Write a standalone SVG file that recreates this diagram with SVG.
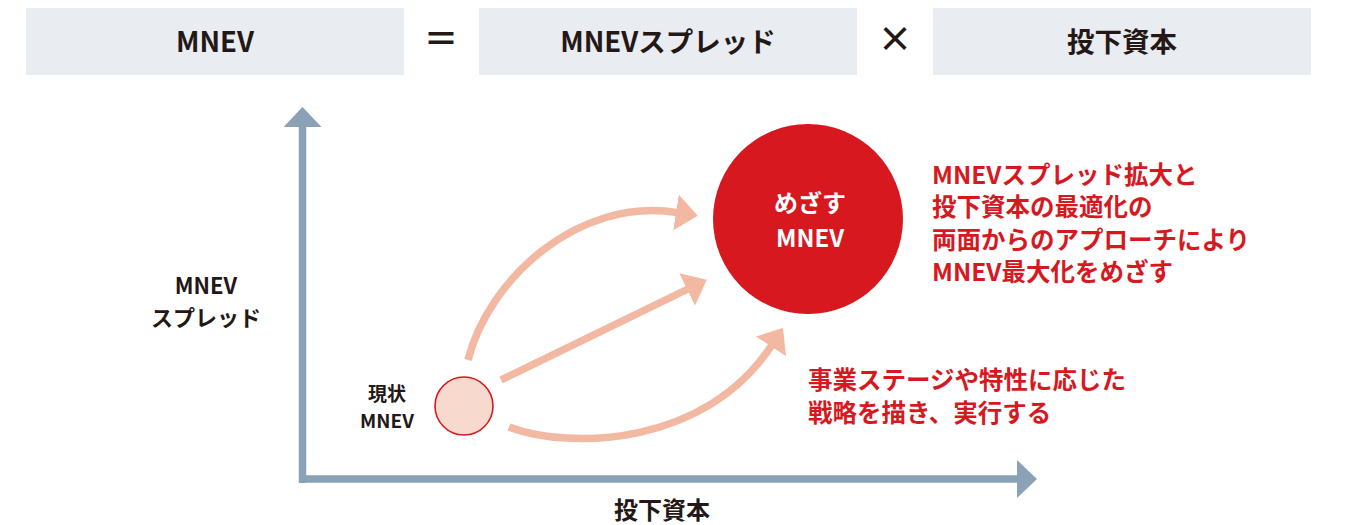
<svg xmlns="http://www.w3.org/2000/svg" width="1345" height="525" viewBox="0 0 1345 525">
<style>
.box{fill:#e9ecf1}
.t{font-family:"Noto Sans CJK JP","Noto Sans",sans-serif;font-weight:700}
.dk{fill:#231815}
.rd{fill:#d7191f}
.wh{fill:#ffffff}
.arr{fill:none;stroke:#f3b8a1;stroke-width:7.5}
.axis{fill:none;stroke:#8aa1b6;stroke-width:7.5}
</style>
<defs>
<marker id="ah" viewBox="0 0 22 36" markerWidth="22" markerHeight="36" markerUnits="userSpaceOnUse" refX="1" refY="18" orient="auto">
<path d="M0,0 L22,18 L0,36 Z" fill="#f3b8a1"/>
</marker>
<marker id="axh" viewBox="0 0 20 38" markerWidth="20" markerHeight="38" markerUnits="userSpaceOnUse" refX="1" refY="19" orient="auto">
<path d="M0,0 L20,19 L0,38 Z" fill="#8aa1b6"/>
</marker>
</defs>

<g id="formula">
<g id="box-mnev"><rect class="box" x="26" y="8" width="378" height="67"/><text class="t dk" x="215" y="51.5" font-size="27.5" text-anchor="middle">MNEV</text></g>
<text class="t dk" x="441" y="52" font-size="35" text-anchor="middle">＝</text>
<g id="box-spread"><rect class="box" x="479" y="8" width="378" height="67"/><text class="t dk" x="668" y="51.5" font-size="27.5" text-anchor="middle">MNEVスプレッド</text></g>
<text class="t dk" x="895" y="52" font-size="35" text-anchor="middle">×</text>
<g id="box-capital"><rect class="box" x="933" y="8" width="378" height="67"/><text class="t dk" x="1122" y="51.5" font-size="27.5" text-anchor="middle">投下資本</text></g>
</g>

<g id="axes">
<path class="axis" d="M302.5,483 L302.5,126" marker-end="url(#axh)"/>
<path class="axis" d="M299,479 L1018,479" marker-end="url(#axh)"/>
</g>

<g id="axis-labels">
<g id="label-y"><text class="t dk" font-size="22" text-anchor="middle"><tspan x="206" y="294">MNEV</tspan><tspan x="206" y="326">スプレッド</tspan></text></g>
<g id="label-x"><text class="t dk" x="662" y="519" font-size="24" text-anchor="middle">投下資本</text></g>
</g>

<g id="connectors">
<path class="arr" d="M468,360 C488,280 577,197 677,212.5" marker-end="url(#ah)"/>
<path class="arr" d="M501,380 L688,289" marker-end="url(#ah)"/>
<path class="arr" d="M509,427 C570,450 706,446 771.5,345.5" marker-end="url(#ah)"/>
</g>

<g id="node-current">
<circle cx="464" cy="406" r="29" fill="#f8d9cd" stroke="#d7191f" stroke-width="1.6"/>
<text class="t dk" font-size="19" text-anchor="middle"><tspan x="387" y="401">現状</tspan><tspan x="387" y="428">MNEV</tspan></text>
</g>

<g id="node-target">
<circle cx="808" cy="219" r="95" fill="#d7191f"/>
<text class="t wh" font-size="24" text-anchor="middle"><tspan x="810" y="212">めざす</tspan><tspan x="810" y="247">MNEV</tspan></text>
</g>

<g id="note-target">
<text class="t rd" font-size="24.5"><tspan x="932" y="184">MNEVスプレッド拡大と</tspan><tspan x="932" y="216">投下資本の最適化の</tspan><tspan x="932" y="249">両面からのアプローチにより</tspan><tspan x="932" y="281">MNEV最大化をめざす</tspan></text>
</g>

<g id="note-strategy">
<text class="t rd" font-size="24.5"><tspan x="808" y="389">事業ステージや特性に応じた</tspan><tspan x="808" y="422">戦略を描き、実行する</tspan></text>
</g>
</svg>
